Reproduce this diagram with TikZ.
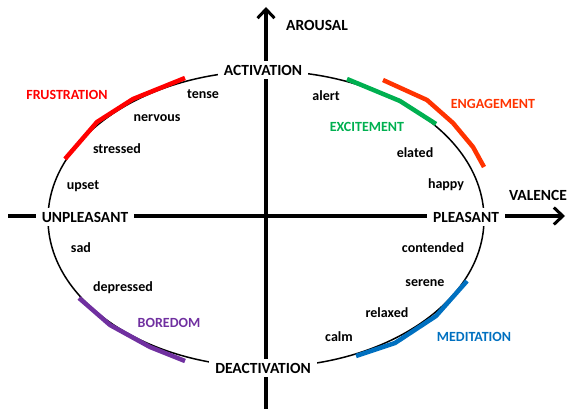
\documentclass[tikz,border=0pt]{standalone}
\usepackage{fontspec}
\setmainfont{Carlito}
\usetikzlibrary{arrows.meta}
\definecolor{cfrus}{HTML}{FF0000}
\definecolor{cexc}{HTML}{00B050}
\definecolor{ceng}{HTML}{FF3300}
\definecolor{cbor}{HTML}{7030A0}
\definecolor{cmed}{HTML}{0070C0}
\tikzset{
  axis/.style={line width=3.2pt},
  seg/.style={line width=4.5pt},
  captext/.style={font=\fontsize{15.5}{17}\selectfont\bfseries, inner sep=2pt},
  cattext/.style={font=\fontsize{14}{16}\selectfont\bfseries, inner sep=2pt},
  word/.style={font=\fontsize{14}{16}\selectfont\bfseries, inner sep=1pt},
  pole/.style={captext, fill=white, inner xsep=6pt, inner ysep=4pt},
}
\begin{document}
\begin{tikzpicture}[x=1pt,y=-1pt]
\useasboundingbox (0,0) rectangle (567,409);
% axes
\coordinate (vb) at (266,409);
\coordinate (vt) at (266,7);
\coordinate (hl) at (8,216);
\coordinate (hr) at (565,216);
\draw[axis,-{Straight Barb[length=9pt,width=17pt,line width=3pt]}] (vb) -- (vt);
\draw[axis,-{Straight Barb[length=9pt,width=17pt,line width=3pt]}] (hl) -- (hr);
% ellipse
\draw[line width=1.5pt] (266,219) ellipse [x radius=218, y radius=148];
% coloured segments
\draw[seg,cfrus] (65,159) -- (97,122) -- (133,99) -- (185,78);
\draw[seg,cexc] (347,79) -- (400,101) -- (436,124);
\draw[seg,ceng] (383,80) -- (427,100) -- (453,123) -- (473,147) -- (484,167);
\draw[seg,cbor] (79,298) -- (110,325) -- (150,347) -- (185,361);
\draw[seg,cmed] (467,281) -- (436,316) -- (395,343) -- (356,356);
% pole labels
\node[pole] (act) at (263,70) {ACTIVATION};
\node[pole] (deact) at (263,368) {DEACTIVATION};
\node[pole] (unp) at (85,217) {UNPLEASANT};
\node[pole] (ple) at (466,217) {PLEASANT};
\node[captext] (aro) at (317,25) {AROUSAL};
\node[captext] (val) at (538,195) {VALENCE};
% category labels
\node[cattext,text=cfrus] (frus) at (67,95) {FRUSTRATION};
\node[cattext,text=cexc] (exc) at (367,127) {EXCITEMENT};
\node[cattext,text=ceng] (eng) at (493,104) {ENGAGEMENT};
\node[cattext,text=cbor] (bor) at (169,323) {BOREDOM};
\node[cattext,text=cmed] (med) at (474,337) {MEDITATION};
% words
\node[word] (w1) at (203,94) {tense};
\node[word] (w2) at (157,118) {nervous};
\node[word] (w3) at (117,149) {stressed};
\node[word] (w4) at (83,186) {upset};
\node[word] (w5) at (81,248) {sad};
\node[word] (w6) at (123,288) {depressed};
\node[word] (w7) at (326,96) {alert};
\node[word] (w8) at (415,153) {elated};
\node[word] (w9) at (446,185) {happy};
\node[word] (w10) at (433,248) {contended};
\node[word] (w11) at (425,283) {serene};
\node[word] (w12) at (387,313) {relaxed};
\node[word] (w13) at (339,337) {calm};
\end{tikzpicture}
\end{document}
